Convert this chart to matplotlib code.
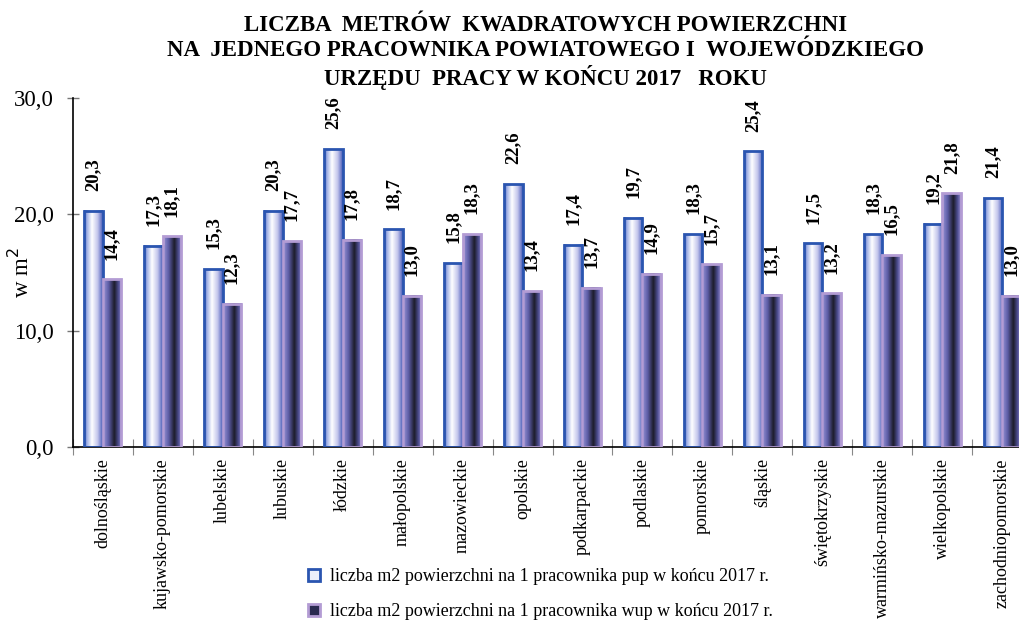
import numpy as np
import matplotlib
matplotlib.use('Agg')
import matplotlib.pyplot as plt
from matplotlib.colors import LinearSegmentedColormap
from matplotlib.lines import Line2D

plt.rcParams['font.family'] = ['Liberation Serif', 'DejaVu Serif']

# data
regions = ['dolnośląskie', 'kujawsko-pomorskie', 'lubelskie', 'lubuskie', 'łódzkie',
           'małopolskie', 'mazowieckie', 'opolskie', 'podkarpackie', 'podlaskie',
           'pomorskie', 'śląskie', 'świętokrzyskie', 'warmińsko-mazurskie',
           'wielkopolskie', 'zachodniopomorskie']
pup = [20.3, 17.3, 15.3, 20.3, 25.6, 18.7, 15.8, 22.6, 17.4, 19.7, 18.3, 25.4, 17.5, 18.3, 19.2, 21.4]
wup = [14.4, 18.1, 12.3, 17.7, 17.8, 13.0, 18.3, 13.4, 13.7, 14.9, 15.7, 13.1, 13.2, 16.5, 21.8, 13.0]
label_pup = 'liczba m2 powierzchni na 1 pracownika pup w końcu 2017 r.'
label_wup = 'liczba m2 powierzchni na 1 pracownika wup w końcu 2017 r.'

title = ('LICZBA  METRÓW  KWADRATOWYCH POWIERZCHNI\n'
         'NA  JEDNEGO PRACOWNIKA POWIATOWEGO I  WOJEWÓDZKIEGO\n'
         'URZĘDU  PRACY W KOŃCU 2017   ROKU')

# gradient fills
cmap_pup = LinearSegmentedColormap.from_list('pup', [
    (0.0, '#3553ad'), (0.15, '#9eaee4'), (0.42, '#ffffff'), (0.72, '#c3c6ec'), (1.0, '#4658b6')])
cmap_wup = LinearSegmentedColormap.from_list('wup', [
    (0.0, '#9a98d8'), (0.3, '#5c5ca6'), (0.6, '#1c1c2a'), (0.82, '#4e4e92'), (1.0, '#9c90d2')])
grad = np.linspace(0, 1, 256).reshape(1, -1)

fig = plt.figure(figsize=(10.19, 6.24), dpi=100)
ax = fig.add_axes([0.0712, 0.2837, 0.942, 0.5593])

x = np.arange(len(regions))
w = 0.305
bars1 = ax.bar(x - w / 2, pup, w, facecolor='none', edgecolor='#2a55b0', linewidth=2, zorder=3)
bars2 = ax.bar(x + w / 2, wup, w, facecolor='none', edgecolor='#b39cd4', linewidth=2, zorder=3)

for bars, cmap in [(bars1, cmap_pup), (bars2, cmap_wup)]:
    for b in bars:
        bx, bw, bh = b.get_x(), b.get_width(), b.get_height()
        ax.imshow(grad, cmap=cmap, extent=[bx, bx + bw, 0, bh], aspect='auto', zorder=2,
                  interpolation='bilinear')
        ax.text(bx + bw / 2, bh + 1.7, f'{bh:.1f}'.replace('.', ','), rotation=90,
                ha='center', va='bottom', fontsize=13.5, fontweight='bold')

ax.set_xlim(-0.5, len(regions) - 0.5)
ax.set_ylim(0, 30)

ax.set_yticks([0, 10, 20, 30])
ax.set_yticklabels(['0,0', '10,0', '20,0', '30,0'], fontsize=16.5)
ax.tick_params(axis='y', direction='inout', length=9, width=1, color='#777777', pad=9)

ax.set_xticks(np.arange(len(regions) + 1) - 0.5)
ax.set_xticklabels([])
ax.tick_params(axis='x', which='major', direction='inout', length=12, color='#888888')
ax.set_xticks(x, minor=True)
ax.set_xticklabels(regions, minor=True, rotation=90, fontsize=13, va='top')
ax.tick_params(axis='x', which='minor', length=0, pad=8)

for s in ['top', 'right']:
    ax.spines[s].set_visible(False)
ax.spines['left'].set_linewidth(1.2)
ax.spines['bottom'].set_linewidth(1.2)

ax.set_ylabel('w m$^2$', fontsize=16.5)
ax.yaxis.set_label_coords(-0.04, 0.5)

fig.text(0.535, 0.916, title, ha='center', va='center', fontsize=16.5, fontweight='bold',
         linespacing=1.2)

handles = [Line2D([], [], linestyle='none', marker='s', markersize=8,
                  markerfacecolor='#eef0fb', markeredgecolor='#2a55b0', markeredgewidth=2),
           Line2D([], [], linestyle='none', marker='s', markersize=8,
                  markerfacecolor='#2a2a50', markeredgecolor='#b39cd4', markeredgewidth=2)]
fig.legend(handles, [label_pup, label_wup], loc='center left', bbox_to_anchor=(0.285, 0.048),
           frameon=False, fontsize=13, labelspacing=1.0, handlelength=0.8, handletextpad=0.5)

fig.savefig('out.png', dpi=100)
